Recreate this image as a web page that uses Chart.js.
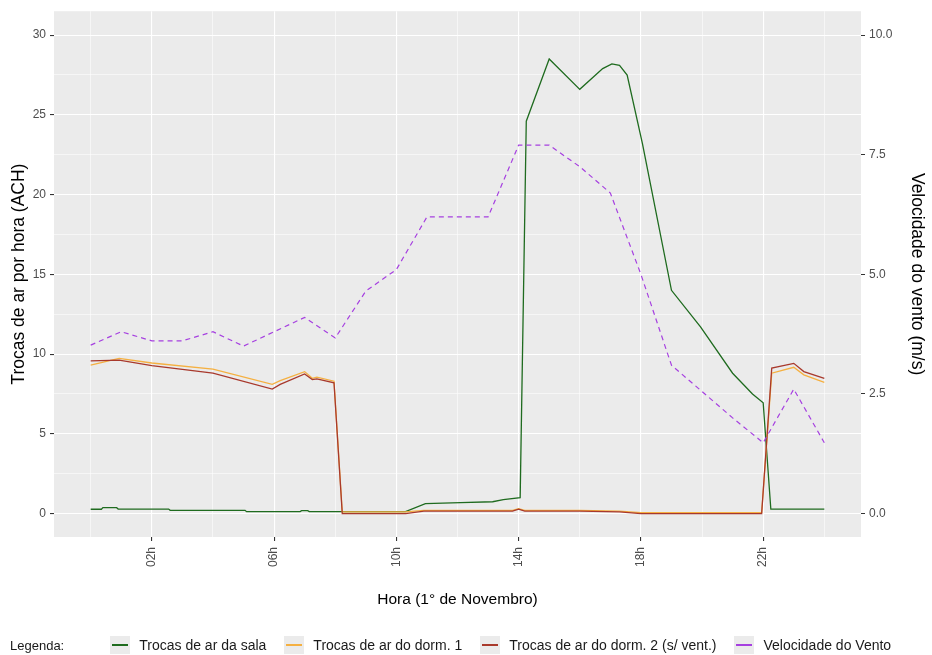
<!DOCTYPE html>
<html>
<head>
<meta charset="utf-8">
<script src="https://cdn.jsdelivr.net/npm/chart.js@4.4.0/dist/chart.umd.min.js"></script>
<style>
body{margin:0;background:#fff;}
#wrap{position:relative;width:932px;height:655px;}
#grafico{position:absolute;left:0;top:0;}
#legenda{position:absolute;left:10px;top:636px;height:18px;display:flex;align-items:center;font-family:'Liberation Sans',Arial,sans-serif;font-size:14px;color:#1a1a1a;white-space:nowrap;}
#legenda .tit{font-size:13px;margin-right:46px;}
#legenda .item{display:flex;align-items:center;margin-right:18px;}
#legenda .key{width:20px;height:18px;background:#ebebeb;position:relative;margin-right:9px;}
#legenda .key i{position:absolute;left:2px;right:2px;top:8px;height:1.6px;}
</style>
</head>
<body>
<div id="wrap">
<canvas id="grafico" width="932" height="655"></canvas>
<div id="legenda"></div>
</div>
<script>
// horas do dia (1 de novembro)
const horasSala=[0,0.35,0.4,0.85,0.9,2.55,2.6,5.05,5.1,6.85,6.9,7.1,7.15,10.3,10.95,12.1,13.15,13.5,14.05,14.25,15.0,16.0,16.75,17.05,17.3,17.55,18.05,19.0,19.95,21.0,21.4,21.65,22.0,22.25,24];
const sala=[0.27,0.27,0.37,0.37,0.28,0.28,0.2,0.2,0.12,0.12,0.18,0.18,0.12,0.12,0.62,0.68,0.74,0.88,1.0,24.6,28.5,26.6,27.9,28.2,28.1,27.5,23.2,14.0,11.7,8.8,8.0,7.5,6.95,0.28,0.28];

const horasDorm=[0,0.93,2.0,4.0,5.94,6.2,7.0,7.25,7.4,7.96,8.23,10.3,10.9,13.8,14.0,14.2,16.0,17.3,18.0,21.95,22.28,23.0,23.33,24];
const dorm1=[9.3,9.73,9.44,9.06,8.1,8.33,8.9,8.48,8.55,8.3,0.1,0.1,0.2,0.2,0.3,0.2,0.2,0.15,0.05,0.05,8.8,9.17,8.7,8.23];
const dorm2=[9.58,9.62,9.27,8.8,7.81,8.1,8.75,8.4,8.45,8.2,0.0,0.0,0.15,0.15,0.28,0.15,0.15,0.1,0.0,0.0,9.12,9.42,8.9,8.48];

const horasVento=[0,1,2,3,4,5,6,7,8,9,10,11,12,13,14,15,16,17,18,19,20,21,22,23,24];
const vento=[3.52,3.8,3.61,3.61,3.8,3.5,3.8,4.1,3.67,4.65,5.1,6.2,6.2,6.2,7.7,7.7,7.25,6.7,5.0,3.1,2.55,2.0,1.48,2.6,1.48];

const ticksHora=[2,6,10,14,18,22];
const gradeHora=[0,2,4,6,8,10,12,14,16,18,20,22,24];
const ticksACH=[0,5,10,15,20,25,30];
const gradeACH=[0,2.5,5,7.5,10,12.5,15,17.5,20,22.5,25,27.5,30];
const ticksVento=[0,2.5,5,7.5,10];

const series=[
  {nome:'Trocas de ar da sala',cor:'#1f6b1f',x:horasSala,y:sala,eixo:'y',ordem:3},
  {nome:'Trocas de ar do dorm. 1',cor:'#f5b041',x:horasDorm,y:dorm1,eixo:'y',ordem:2},
  {nome:'Trocas de ar do dorm. 2 (s/ vent.)',cor:'#a8392c',x:horasDorm,y:dorm2,eixo:'y',ordem:1},
  {nome:'Velocidade do Vento',cor:'#a640e0',x:horasVento,y:vento,eixo:'y2',ordem:0,tracejado:[5,4]}
];

function pares(xs,ys){
  return xs.map((h,i)=>({x:h,y:ys[i]}));
}

const fonte="'Liberation Sans', Arial, sans-serif";
Chart.defaults.font.family=fonte;

const fundoPainel={
  id:'fundoPainel',
  beforeDraw(chart){
    const {ctx,chartArea:a}=chart;
    ctx.save();
    ctx.fillStyle='#EBEBEB';
    ctx.fillRect(a.left,a.top,a.width,a.height);
    ctx.restore();
  }
};

const corTick='#333333';
const corTexto='#4D4D4D';

new Chart(document.getElementById('grafico').getContext('2d'),{
  type:'line',
  data:{
    datasets:series.map(s=>({
      label:s.nome,
      data:pares(s.x,s.y),
      borderColor:s.cor,
      backgroundColor:s.cor,
      borderWidth:s.tracejado?1.2:1.3,
      borderDash:s.tracejado||[],
      pointRadius:0,
      tension:0,
      yAxisID:s.eixo,
      order:s.ordem
    }))
  },
  options:{
    responsive:false,
    animation:false,
    layout:{padding:{top:11,left:9,right:5,bottom:46}},
    plugins:{legend:{display:false},tooltip:{enabled:false}},
    scales:{
      x:{
        type:'linear',min:-1.2,max:25.2,
        afterBuildTicks:s=>{s.ticks=gradeHora.map(v=>({value:v}));},
        afterFit:s=>{s.height=72;},
        border:{display:false},
        grid:{
          color:'#ffffff',
          lineWidth:c=>ticksHora.includes(c.tick.value)?1.1:0.55,
          tickColor:c=>ticksHora.includes(c.tick.value)?corTick:'rgba(0,0,0,0)',
          tickLength:4
        },
        ticks:{
          autoSkip:false,minRotation:90,maxRotation:90,padding:6,
          color:corTexto,font:{size:12},
          callback:v=>ticksHora.includes(v)?String(v).padStart(2,'0')+'h':''
        },
        title:{display:true,text:'Hora (1° de Novembro)',color:'#000',font:{size:15.5},padding:0}
      },
      y:{
        position:'left',min:-1.47,max:31.5,
        afterBuildTicks:s=>{s.ticks=gradeACH.map(v=>({value:v}));},
        afterFit:s=>{s.width=45;},
        border:{display:false},
        grid:{
          color:'#ffffff',
          lineWidth:c=>ticksACH.includes(c.tick.value)?1.1:0.55,
          tickColor:c=>ticksACH.includes(c.tick.value)?corTick:'rgba(0,0,0,0)',
          tickLength:4
        },
        ticks:{
          autoSkip:false,padding:4,color:corTexto,font:{size:12},
          callback:v=>ticksACH.includes(v)?String(v):''
        },
        title:{display:true,text:'Trocas de ar por hora (ACH)',color:'#000',font:{size:17.5},padding:0}
      },
      y2:{
        position:'right',min:-0.49,max:10.5,
        afterBuildTicks:s=>{s.ticks=ticksVento.map(v=>({value:v}));},
        afterFit:s=>{s.width=66;},
        border:{display:false},
        grid:{drawOnChartArea:false,tickColor:corTick,tickLength:4},
        ticks:{
          autoSkip:false,padding:4,color:corTexto,font:{size:12},
          callback:v=>v.toFixed(1)
        },
        title:{display:true,text:'Velocidade do vento (m/s)',color:'#000',font:{size:17.5},padding:0}
      }
    }
  },
  plugins:[fundoPainel]
});

// legenda em HTML, em linha, como no original
const legenda=document.getElementById('legenda');
let html='<span class="tit">Legenda:</span>';
series.forEach(s=>{
  html+='<span class="item"><span class="key"><i style="background:'+s.cor+'"></i></span>'+s.nome+'</span>';
});
legenda.innerHTML=html;
</script>
</body>
</html>
